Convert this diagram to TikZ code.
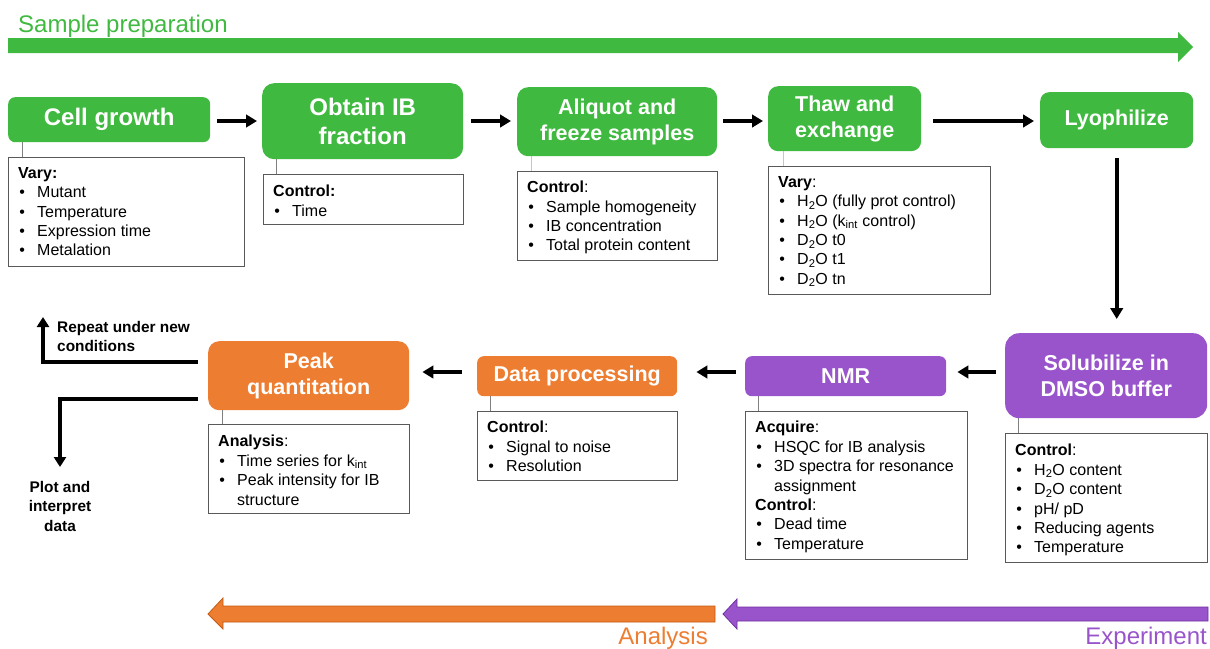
\documentclass[tikz,border=0pt]{standalone}
\usepackage{fontspec}
\setmainfont{Liberation Sans}
\usetikzlibrary{arrows.meta,calc}
\definecolor{sgreen}{RGB}{63,185,63}
\definecolor{sorange}{RGB}{237,125,49}
\definecolor{sorangedk}{RGB}{197,90,17}
\definecolor{spurple}{RGB}{153,84,204}
\definecolor{spurpledk}{RGB}{112,48,160}
\definecolor{notegray}{RGB}{89,89,89}
\newcommand{\itm}[1]{\makebox[19pt][l]{\hspace{1.2pt}\textbullet}#1}
\tikzset{
  stage/.style={fill=#1, text=white, inner sep=0pt, align=center, anchor=north west,
    font=\bfseries\fontsize{21.5}{26}\selectfont},
  bigstage/.style={stage=#1, font=\bfseries\fontsize{24}{29}\selectfont},
  notebox/.style={draw=notegray, line width=0.9pt, fill=white, inner sep=0pt, anchor=north west},
  notetext/.style={inner sep=0pt, anchor=north west, align=left,
    font=\fontsize{16}{19.4}\selectfont},
  conn/.style={draw=gray, line width=0.8pt},
  connlight/.style={draw=gray!45, line width=0.8pt},
  flow/.style={line width=3.6pt, -{Triangle[length=11pt,width=12.5pt]}},
  elbow/.style={line width=3.2pt, line join=miter, -{Triangle[length=10pt,width=12pt]}},
  sidelabel/.style={inner sep=0pt, font=\bfseries\fontsize{15.4}{19.5}\selectfont},
  phase/.style={inner sep=0pt, font=\fontsize{24}{28}\selectfont},
}
\begin{document}
\begin{tikzpicture}[x=1pt,y=-1pt]
\useasboundingbox (0,0) rectangle (1210,648);

% phase arrows
\fill[sgreen] (8,38) -- (1178,38) -- (1178,32) -- (1193,47) -- (1178,62) -- (1178,53) -- (8,53) -- cycle;
\node[phase, text=sgreen, anchor=base west] (tsp) at (18,32) {Sample preparation};
\filldraw[fill=sorange, draw=sorangedk, line width=0.8pt]
  (715,606) -- (223,606) -- (223,598) -- (208,614) -- (223,629) -- (223,622) -- (715,622) -- cycle;
\filldraw[fill=spurple, draw=spurpledk, line width=0.8pt]
  (1208,607) -- (737,607) -- (737,599) -- (723,614) -- (737,629) -- (737,621) -- (1208,621) -- cycle;
\node[phase, text=sorange, anchor=base east] (tan) at (708,644) {Analysis};
\node[phase, text=spurple, anchor=base east] (tex) at (1207,644) {Experiment};

% stage boxes
\node[bigstage=sgreen, rounded corners=7pt, minimum width=202pt, minimum height=45pt] (cg) at (8,97) {Cell growth};
\node[bigstage=sgreen, rounded corners=12pt, minimum width=201pt, minimum height=76pt] (ob) at (262,83) {Obtain IB\\fraction};
\node[stage=sgreen, rounded corners=11pt, minimum width=200pt, minimum height=69pt] (al) at (517,87) {Aliquot and\\freeze samples};
\node[stage=sgreen, rounded corners=10pt, minimum width=153pt, minimum height=65pt] (th) at (768,86) {Thaw and\\exchange};
\node[stage=sgreen, rounded corners=9pt, minimum width=153pt, minimum height=56pt] (ly) at (1040,92) {Lyophilize};
\node[stage=spurple, rounded corners=14pt, minimum width=202pt, minimum height=85pt] (so) at (1005,333) {Solubilize in\\DMSO buffer};
\node[stage=spurple, rounded corners=6.5pt, minimum width=201pt, minimum height=40pt] (nmr) at (745,356) {NMR};
\node[stage=sorange, rounded corners=6.5pt, minimum width=200pt, minimum height=40pt] (dp) at (477,356) {Data processing};
\node[stage=sorange, rounded corners=11pt, minimum width=201pt, minimum height=69pt] (pq) at (208,341) {Peak\\quantitation};

% note boxes
\node[notebox, minimum width=236pt, minimum height=109pt] (n1) at (8,157) {};
\node[notebox, minimum width=200pt, minimum height=50pt] (n2) at (263,174) {};
\node[notebox, minimum width=200pt, minimum height=89pt] (n3) at (517,171) {};
\node[notebox, minimum width=222pt, minimum height=128pt] (n4) at (768,166) {};
\node[notebox, minimum width=202pt, minimum height=129pt] (n5) at (1005,433) {};
\node[notebox, minimum width=222pt, minimum height=148pt] (n6) at (745,411) {};
\node[notebox, minimum width=200pt, minimum height=69pt] (n7) at (477,411) {};
\node[notebox, minimum width=201pt, minimum height=89pt] (n8) at (208,424) {};

\node[notetext] (t1) at ($(n1.north west)+(10,10)$) {\textbf{Vary:}\\\itm{Mutant}\\\itm{Temperature}\\\itm{Expression time}\\\itm{Metalation}};
\node[notetext] (t2) at ($(n2.north west)+(10,11)$) {\textbf{Control:}\\\itm{Time}};
\node[notetext] (t3) at ($(n3.north west)+(10,10)$) {\textbf{Control}:\\\itm{Sample homogeneity}\\\itm{IB concentration}\\\itm{Total protein content}};
\node[notetext] (t4) at ($(n4.north west)+(10,10)$) {\textbf{Vary}:\\\itm{H\textsubscript{2}O (fully prot control)}\\\itm{H\textsubscript{2}O (k\textsubscript{int} control)}\\\itm{D\textsubscript{2}O t0}\\\itm{D\textsubscript{2}O t1}\\\itm{D\textsubscript{2}O tn}};
\node[notetext] (t5) at ($(n5.north west)+(10,11)$) {\textbf{Control}:\\\itm{H\textsubscript{2}O content}\\\itm{D\textsubscript{2}O content}\\\itm{pH/ pD}\\\itm{Reducing agents}\\\itm{Temperature}};
\node[notetext] (t6) at ($(n6.north west)+(10,10)$) {\textbf{Acquire}:\\\itm{HSQC for IB analysis}\\\itm{3D spectra for resonance}\\\hspace*{19pt}assignment\\\textbf{Control}:\\\itm{Dead time}\\\itm{Temperature}};
\node[notetext] (t7) at ($(n7.north west)+(10,10)$) {\textbf{Control}:\\\itm{Signal to noise}\\\itm{Resolution}};
\node[notetext] (t8) at ($(n8.north west)+(10,11)$) {\textbf{Analysis}:\\\itm{Time series for k\textsubscript{int}}\\\itm{Peak intensity for IB}\\\hspace*{19pt}structure};

% connectors stage -> note
\draw[conn] ([xshift=14pt]cg.south west) -- ([xshift=14pt]cg.south west |- n1.north);
\draw[conn] ([xshift=14pt]ob.south west) -- ([xshift=14pt]ob.south west |- n2.north);
\draw[connlight] ([xshift=14pt]al.south west) -- ([xshift=14pt]al.south west |- n3.north);
\draw[connlight] ([xshift=15pt]th.south west) -- ([xshift=15pt]th.south west |- n4.north);
\draw[conn] ([xshift=13pt]so.south west) -- ([xshift=13pt]so.south west |- n5.north);
\draw[conn] ([xshift=13pt]nmr.south west) -- ([xshift=13pt]nmr.south west |- n6.north);
\draw[conn] ([xshift=13pt]dp.south west) -- ([xshift=13pt]dp.south west |- n7.north);
\draw[conn] ([xshift=14pt]pq.south west) -- ([xshift=14pt]pq.south west |- n8.north);

% flow arrows
\coordinate (rowA) at (0,121);
\coordinate (rowB) at (0,372);
\coordinate (rowR) at (0,362);
\coordinate (rowP) at (0,399);
\coordinate (rp) at (43,317);
\coordinate (pl) at (60,467);
\draw[flow, shorten <=7pt, shorten >=5pt] (cg.east |- rowA) -- (ob.west |- rowA);
\draw[flow, shorten <=8pt, shorten >=6pt] (ob.east |- rowA) -- (al.west |- rowA);
\draw[flow, shorten <=6pt, shorten >=5pt] (al.east |- rowA) -- (th.west |- rowA);
\draw[flow, shorten <=12pt, shorten >=6pt] (th.east |- rowA) -- (ly.west |- rowA);
\draw[flow, shorten <=10pt, shorten >=14pt] (ly.south) -- (ly.south |- so.north);
\draw[flow, shorten <=9pt, shorten >=11pt] (so.west |- rowB) -- (nmr.east |- rowB);
\draw[flow, shorten <=9pt, shorten >=19pt] (nmr.west |- rowB) -- (dp.east |- rowB);
\draw[flow, shorten <=15pt, shorten >=13pt] (dp.west |- rowB) -- (pq.east |- rowB);
\draw[elbow, shorten <=10pt] (pq.west |- rowR) -| (rp);
\draw[elbow, shorten <=10pt] (pq.west |- rowP) -| (pl);

\node[sidelabel, anchor=north west, align=left] (lrep) at (57,321) {Repeat under new\\conditions};
\node[sidelabel, anchor=north, align=center] (lplot) at (60,481) {Plot and\\interpret\\data};
\end{tikzpicture}
\end{document}
